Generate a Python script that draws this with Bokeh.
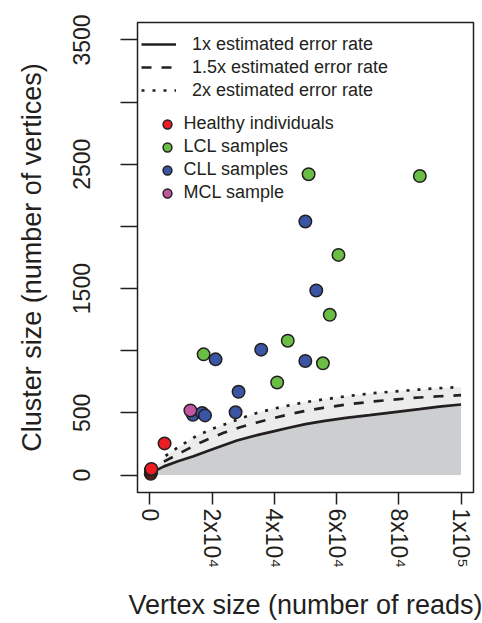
from bokeh.plotting import figure
from bokeh.models import (Range1d, FixedTicker, Legend, LegendItem)
from bokeh.embed import file_html
from bokeh.resources import INLINE

# ---------------- data ----------------
solid_x = [0, 2000, 4500, 9000, 14000, 19000, 23700, 28000, 34400, 40000, 45000,
           50000, 55700, 63000, 70600, 78000, 86600, 93000, 100000]
solid_y = [0, 38, 70, 112, 152, 198, 240, 278, 321, 354, 383,
           410, 434, 460, 482, 505, 530, 550, 568]

dashed_x = [4500, 10400, 16500, 23700, 29000, 34400, 40000, 45000, 50000, 55700,
            63000, 70600, 78000, 86600, 93000, 100000]
dashed_y = [108, 187, 265, 340, 385, 423, 460, 490, 517, 541,
            567, 589, 607, 624, 634, 643]

dotted_x = [5000, 10000, 15000, 20000, 23700, 29000, 34400, 40000, 45000, 50000,
            55700, 63000, 70600, 78000, 86600, 93000, 100000]
dotted_y = [155, 240, 315, 372, 405, 455, 500, 535, 562, 587,
            608, 634, 656, 672, 688, 699, 709]

healthy_x = [250, 350, 300, 450, 4700]
healthy_y = [10, 25, 40, 50, 255]

lcl_x = [51000, 86750, 60600, 57800, 44300, 55600, 40900, 17250]
lcl_y = [2420, 2405, 1771, 1289, 1081, 899, 745, 971]

cll_x = [49950, 53460, 35760, 49940, 21100, 28490, 27530, 13800, 16800, 17700]
cll_y = [2040, 1485, 1009, 918, 931, 670, 505, 485, 500, 480]

mcl_x = [13000]
mcl_y = [520]

x_ticks = [0, 20000, 40000, 60000, 80000, 100000]
x_tick_labels = ["0", "2x10\u2074", "4x10\u2074", "6x10\u2074", "8x10\u2074", "1x10\u2075"]
y_ticks = [0, 500, 1000, 1500, 2000, 2500, 3000, 3500]
y_tick_labels = ["0", "500", "", "1500", "", "2500", "", "3500"]

# ---------------- style ----------------
INK = "#231F20"
FONT = "Liberation Sans"
DARK_FILL = "#CDCED0"
LIGHT_FILL = "#ECECEC"

p = figure(width=482, height=623, output_backend="svg", toolbar_location=None,
           x_range=Range1d(-4000, 104000), y_range=Range1d(-140, 3640),
           min_border_left=137, min_border_right=9, min_border_top=22,
           min_border_bottom=130)
p.background_fill_color = "white"
p.border_fill_color = "white"
p.outline_line_color = INK
p.outline_line_width = 1.5
p.xgrid.visible = False
p.ygrid.visible = False

# shaded regions
p.varea(x=solid_x, y1=[0] * len(solid_x), y2=solid_y, fill_color=DARK_FILL)
band_x = [solid_x[0]] + dotted_x + solid_x[::-1]
band_y = [solid_y[0]] + dotted_y + solid_y[::-1]
p.patch(band_x, band_y, fill_color=LIGHT_FILL, line_color=None)

# curves
r_solid = p.line(solid_x, solid_y, line_color=INK, line_width=2.7)
r_dash = p.line(dashed_x, dashed_y, line_color=INK, line_width=2.7, line_dash="10 10")
r_dot = p.line(dotted_x, dotted_y, line_color=INK, line_width=2.7, line_dash="3 8")

# points
pt = dict(size=12.5, line_color=INK, line_width=1.5)
r_h = p.scatter(healthy_x, healthy_y, fill_color="#EE1D23", **pt)
r_l = p.scatter(lcl_x, lcl_y, fill_color="#6ABD45", **pt)
r_c = p.scatter(cll_x, cll_y, fill_color="#3A55A4", **pt)
r_m = p.scatter(mcl_x, mcl_y, fill_color="#C055A0", **pt)

# axes
for ax in (p.xaxis[0], p.yaxis[0]):
    ax.axis_line_color = None
    ax.major_tick_line_color = INK
    ax.major_tick_line_width = 1.5
    ax.major_tick_in = 0
    ax.minor_tick_line_color = None
    ax.major_label_text_font = FONT
    ax.major_label_text_color = INK
    ax.major_label_text_font_size = "23px"
    ax.axis_label_text_font = FONT
    ax.axis_label_text_color = INK
    ax.axis_label_text_font_size = "27px"
    ax.axis_label_text_font_style = "normal"

xa = p.xaxis[0]
xa.ticker = FixedTicker(ticks=x_ticks)
xa.major_label_overrides = dict(zip(x_ticks, x_tick_labels))
xa.major_label_orientation = "vertical"
xa.major_tick_out = 12
xa.major_label_standoff = 4
xa.axis_label = "Vertex size (number of reads)"
xa.axis_label_standoff = 19

ya = p.yaxis[0]
ya.ticker = FixedTicker(ticks=y_ticks)
ya.major_label_overrides = dict(zip(y_ticks, y_tick_labels))
ya.major_label_orientation = "parallel"
ya.major_tick_out = 17
ya.major_label_standoff = 30
ya.axis_label = "Cluster size (number of vertices)"
ya.axis_label_standoff = 24

# legends
common = dict(border_line_color=None, background_fill_alpha=0, padding=0, margin=0,
              label_text_font=FONT, label_text_font_size="18px",
              label_text_color=INK, glyph_height=22, label_height=22, spacing=1)

leg1 = Legend(items=[LegendItem(label="1x estimated error rate", renderers=[r_solid]),
                     LegendItem(label="1.5x estimated error rate", renderers=[r_dash]),
                     LegendItem(label="2x estimated error rate", renderers=[r_dot])],
              location=(4, 391), glyph_width=35, label_standoff=16, **common)
leg2 = Legend(items=[LegendItem(label="Healthy individuals", renderers=[r_h]),
                     LegendItem(label="LCL samples", renderers=[r_l]),
                     LegendItem(label="CLL samples", renderers=[r_c]),
                     LegendItem(label="MCL sample", renderers=[r_m])],
              location=(18.6, 288.5), glyph_width=22, label_standoff=6, **common)
p.add_layout(leg1)
p.add_layout(leg2)

open("out.html", "w").write(file_html(p, INLINE))
